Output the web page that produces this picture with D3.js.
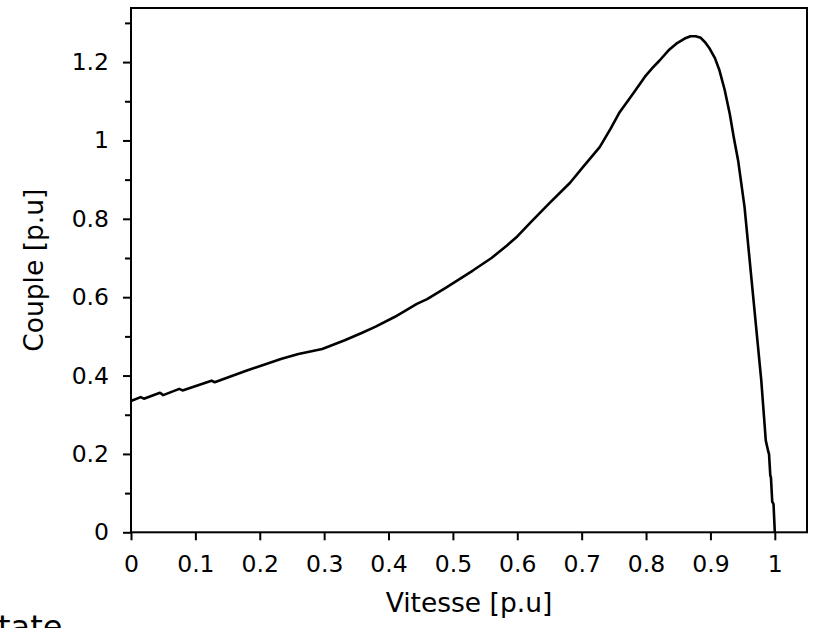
<!DOCTYPE html>
<html>
<head>
<meta charset="utf-8">
<script src="https://cdn.jsdelivr.net/npm/d3@7"></script>
<style>
  body { margin: 0; background: #fff; }
  text { font-family: Verdana, "DejaVu Sans", sans-serif; fill: #000; }
</style>
</head>
<body>
<div id="chart"></div>
<script>
var width = 817;
var height = 628;
var margin = {top: 8, right: 10, bottom: 96, left: 131};

// speed (p.u) and torque (p.u)
var vitesse = [0, 0.015, 0.02, 0.045, 0.05, 0.075, 0.08, 0.125, 0.13, 0.18, 0.234, 0.26, 0.297, 0.332,
  0.36, 0.38, 0.41, 0.444, 0.46, 0.49, 0.531, 0.56, 0.584, 0.60, 0.623, 0.65, 0.682, 0.70, 0.728,
  0.745, 0.759, 0.78, 0.798, 0.81, 0.821, 0.835, 0.847, 0.86, 0.869, 0.877, 0.885, 0.892, 0.899,
  0.907, 0.914, 0.922, 0.930, 0.936, 0.943, 0.953, 0.964, 0.979, 0.986, 0.990, 0.991, 0.993,
  0.994, 0.996, 0.998, 1.0];
var couple = [0.335, 0.345, 0.341, 0.356, 0.350, 0.366, 0.362, 0.387, 0.383, 0.413, 0.443, 0.455, 0.468, 0.49,
  0.51, 0.525, 0.55, 0.583, 0.595, 0.625, 0.668, 0.70, 0.732, 0.755, 0.795, 0.84, 0.892, 0.928, 0.983,
  1.03, 1.072, 1.12, 1.162, 1.185, 1.204, 1.23, 1.247, 1.26, 1.266, 1.266, 1.262, 1.25, 1.234,
  1.21, 1.179, 1.13, 1.068, 1.01, 0.949, 0.83, 0.642, 0.387, 0.234, 0.205, 0.20, 0.145,
  0.14, 0.078, 0.072, 0.0];
var xTicks = [0, 0.1, 0.2, 0.3, 0.4, 0.5, 0.6, 0.7, 0.8, 0.9, 1];
var yTicks = [0, 0.2, 0.4, 0.6, 0.8, 1, 1.2];
var yMinor = [0.1, 0.3, 0.5, 0.7, 0.9, 1.1, 1.3];

var points = vitesse.map(function (v, i) { return [v, couple[i]]; });

var svg = d3.select('#chart')
    .append('svg')
    .attr('width', width)
    .attr('height', height);

var x = d3.scaleLinear()
    .domain([0, 1.05])
    .range([margin.left, width - margin.right]);

var y = d3.scaleLinear()
    .domain([0, 1.338])
    .range([height - margin.bottom + 0.3, margin.top]);

// frame
svg.append('rect')
    .attr('x', x(0))
    .attr('y', y(1.338))
    .attr('width', x(1.05) - x(0))
    .attr('height', y(0) - y(1.338))
    .attr('fill', 'none')
    .attr('stroke', '#000')
    .attr('stroke-width', 2);

// x axis
var xAxis = svg.append('g')
    .attr('transform', 'translate(0,' + y(0) + ')')
    .call(d3.axisBottom(x).tickValues(xTicks).tickSize(8).tickPadding(15)
        .tickFormat(d3.format('')));
xAxis.select('.domain').remove();
xAxis.selectAll('line').attr('stroke-width', 2);
xAxis.selectAll('text').attr('font-size', 23.5).attr('fill', '#000');

// y axis
var yAxis = svg.append('g')
    .attr('transform', 'translate(' + x(0) + ',0)')
    .call(d3.axisLeft(y).tickValues(yTicks).tickSize(8).tickPadding(14)
        .tickFormat(d3.format('')));
yAxis.select('.domain').remove();
yAxis.selectAll('line').attr('stroke-width', 2);
yAxis.selectAll('text').attr('font-size', 23.5).attr('fill', '#000');

// minor y ticks
svg.append('g')
    .attr('transform', 'translate(' + x(0) + ',0)')
    .call(d3.axisLeft(y).tickValues(yMinor).tickSize(6).tickFormat(''))
    .call(function (g) { g.select('.domain').remove(); })
    .selectAll('line').attr('stroke-width', 2);

// curve
var line = d3.line()
    .x(function (d) { return x(d[0]); })
    .y(function (d) { return y(d[1]); });

svg.append('path')
    .datum(points)
    .attr('d', line)
    .attr('fill', 'none')
    .attr('stroke', '#000')
    .attr('stroke-width', 2.6)
    .attr('stroke-linejoin', 'round');

// axis titles
svg.append('text')
    .attr('x', (x(0) + x(1.05)) / 2)
    .attr('y', 612)
    .attr('text-anchor', 'middle')
    .attr('font-size', 26.5)
    .text('Vitesse [p.u]');

svg.append('text')
    .attr('transform', 'translate(43,' + ((y(0) + y(1.338)) / 2) + ') rotate(-90)')
    .attr('text-anchor', 'middle')
    .attr('font-size', 26.5)
    .text('Couple [p.u]');

// leftover text clipped at the bottom edge
svg.append('text')
    .attr('x', -2)
    .attr('y', 638)
    .attr('font-size', 32)
    .text('tate');
</script>
</body>
</html>
